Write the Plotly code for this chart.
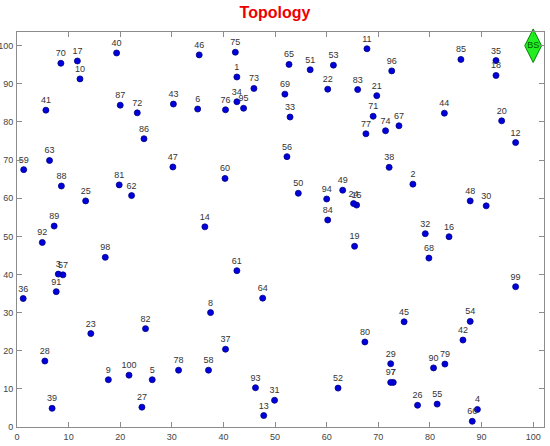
import plotly.graph_objects as go

node_ids = list(range(1, 101))
node_x = [42.6, 76.7, 8.0, 89.2, 26.2, 35.0, 72.9, 37.5, 17.7, 12.2,
          67.8, 96.6, 47.8, 36.4, 65.8, 83.7, 11.7, 92.8, 65.4, 93.9,
          69.7, 60.2, 14.3, 65.2, 13.3, 77.6, 24.2, 5.4, 72.4, 90.9,
          49.9, 79.1, 52.9, 42.6, 92.8, 1.2, 40.4, 72.1, 6.8, 19.3,
          5.6, 86.4, 30.3, 82.8, 75.0, 35.3, 30.2, 87.8, 63.1, 54.5,
          56.8, 62.2, 61.3, 87.8, 81.4, 52.3, 8.9, 37.1, 1.3, 40.3,
          42.6, 22.2, 6.3, 47.6, 52.7, 88.2, 74.0, 79.8, 51.9, 8.5,
          69.0, 23.3, 45.9, 71.4, 42.3, 40.4, 67.6, 31.3, 82.9, 67.4,
          19.8, 24.9, 66.0, 60.2, 86.0, 24.6, 20.0, 8.6, 7.2, 80.7,
          7.6, 4.9, 46.2, 60.0, 43.9, 72.6, 72.4, 17.1, 96.6, 21.7]
node_y = [91.8, 63.7, 40.1, 4.6, 12.4, 83.4, 11.7, 30.0, 12.4, 91.3,
          99.2, 74.6, 3.0, 52.5, 58.2, 49.9, 96.0, 92.2, 47.4, 80.3,
          86.9, 88.6, 24.5, 58.6, 59.3, 5.7, 5.2, 17.3, 16.6, 58.0,
          7.0, 50.7, 81.3, 85.3, 96.1, 33.7, 20.4, 68.1, 4.9, 98.1,
          83.1, 22.8, 84.7, 82.3, 27.6, 97.6, 68.2, 59.3, 62.1, 61.3,
          93.7, 10.2, 94.9, 27.7, 6.0, 70.9, 39.9, 14.9, 67.5, 65.2,
          41.0, 60.7, 69.9, 33.8, 95.1, 1.5, 79.0, 44.3, 87.3, 95.4,
          81.5, 82.4, 88.8, 77.7, 98.3, 83.2, 76.9, 14.9, 16.5, 22.3,
          63.5, 25.8, 88.5, 54.3, 96.4, 75.6, 84.4, 63.2, 52.7, 15.5,
          35.5, 48.4, 10.3, 59.8, 83.6, 93.4, 11.7, 44.5, 36.8, 13.6]
bs_x = [100]
bs_y = [100]
bs_label = ["BS"]
title_text = "Topology"
tick_vals = list(range(0, 101, 10))

fig = go.Figure()
fig.add_trace(go.Scatter(
    x=node_x, y=node_y, mode="markers+text",
    text=[str(i) for i in node_ids], textposition="top center",
    textfont=dict(family="Liberation Sans Narrow, Arial Narrow, Liberation Sans", size=9, color="#333333"),
    marker=dict(color="#0000dd", size=6, line=dict(color="#000080", width=0.8)),
    cliponaxis=False, showlegend=False, hoverinfo="skip"))
fig.add_trace(go.Scatter(
    x=bs_x, y=bs_y, mode="markers+text", text=bs_label, textposition="middle center",
    textfont=dict(family="Liberation Sans Narrow, Liberation Sans", size=9, color="#006000"),
    marker=dict(symbol="diamond-tall", color="#22ee22", size=24, line=dict(color="#008800", width=1)),
    cliponaxis=False, showlegend=False, hoverinfo="skip"))

axis_common = dict(showline=True, linecolor="#8c8c8c", linewidth=1, mirror="ticks",
                   ticks="inside", ticklen=5, tickcolor="#8c8c8c", showgrid=False, zeroline=False,
                   automargin=False, ticklabelstandoff=1,
                   tickfont=dict(family="Liberation Sans Narrow, Liberation Sans", size=9, color="#444444"),
                   tickvals=tick_vals)
fig.update_xaxes(range=[0, 102.1], **axis_common)
fig.update_yaxes(range=[0, 103.6], **axis_common)
fig.update_layout(
    width=550, height=446, margin=dict(l=17, r=6, t=32, b=19, autoexpand=False),
    paper_bgcolor="white", plot_bgcolor="white",
    title=dict(text="<b>" + title_text + "</b>", x=0.5, xanchor="center", y=0.985, yanchor="top",
               font=dict(family="Liberation Sans", size=16, color="#ee0000")))
fig.write_html("out.html", config={"displayModeBar": False},
               post_script="document.body.style.margin='0px';")
